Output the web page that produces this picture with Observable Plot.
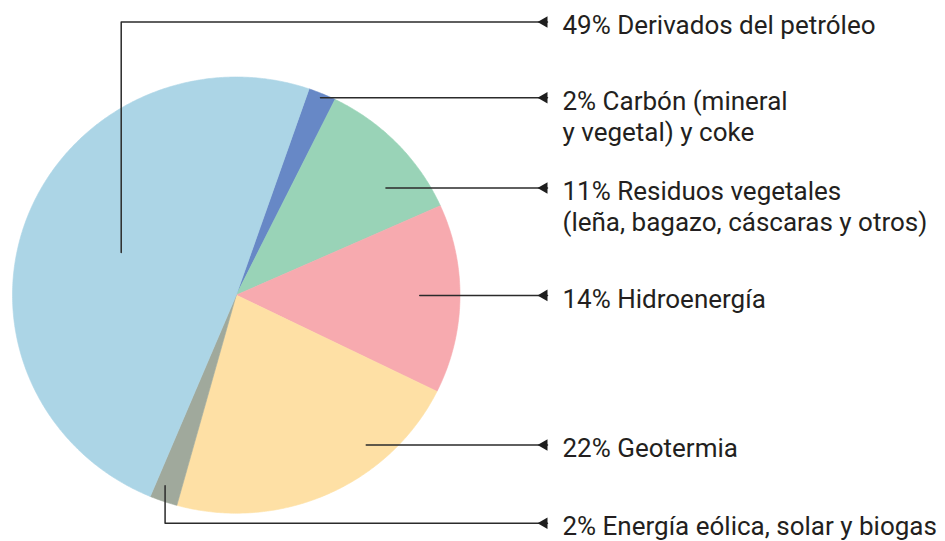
<!DOCTYPE html>
<html><head><meta charset="utf-8">
<script src="https://cdn.jsdelivr.net/npm/d3@7"></script>
<script src="https://cdn.jsdelivr.net/npm/@observablehq/plot@0.6"></script>
<style>html,body{margin:0;padding:0;background:#fff} svg{display:block}</style>
</head><body><div id="chart"></div>
<script>
// Data (clockwise from the top, starting with Carbón)
const categories = [
  "Carbón (mineral\ny vegetal) y coke",
  "Residuos vegetales\n(leña, bagazo, cáscaras y otros)",
  "Hidroenergía",
  "Geotermia",
  "Energía eólica, solar y biogas",
  "Derivados del petróleo"
];
const shares = [2, 11, 14, 22, 2, 49];
const colors = ["#6788c6", "#99d3b7", "#f7aaaf", "#fee0a5", "#a0a99c", "#acd5e6"];

// Layout of the annotations (unit-circle coordinates)
const startAngle = 19;                                  // degrees, clockwise from top
const leaderAngle = [22.6, 53.7, 90.1, 139.8, 200, 290.8];
const leaderRadius = [0.98, 0.83, 0.82, 0.9, 0.93, 0.55];
const labelElbowY = [null, null, null, null, -1.046, 1.252];
const labelColumn = 1.391;

const rad = d => d * Math.PI / 180;

// slice polygons
const slicePolys = [];
let acc = startAngle;
shares.forEach((v, i) => {
  const a0 = acc, a1 = acc + v * 3.6;
  acc = a1;
  const pts = [{i, x: 0, y: 0}];
  const n = Math.max(4, Math.ceil((a1 - a0) / 0.5));
  for (let k = 0; k <= n; k++) {
    const a = rad(a0 + (a1 - a0) * k / n);
    pts.push({i, x: Math.sin(a), y: Math.cos(a)});
  }
  pts.push({i, x: 0, y: 0});
  slicePolys.push(pts);
});

// leader lines and labels
const leaderPts = [];
const labels = [];
shares.forEach((v, i) => {
  const a = rad(leaderAngle[i]);
  const px = leaderRadius[i] * Math.sin(a), py = leaderRadius[i] * Math.cos(a);
  leaderPts.push({i, x: px, y: py});
  let ly = py;
  if (labelElbowY[i] !== null) {
    ly = labelElbowY[i];
    leaderPts.push({i, x: px, y: ly});
  }
  leaderPts.push({i, x: labelColumn, y: ly});
  labels.push({i, y: ly, text: `${v}% ${categories[i]}`});
});

const font = "Roboto, 'Noto Sans', sans-serif";

const chart = Plot.plot({
  width: 945,
  height: 541,
  margin: 0,
  x: {domain: [-1, 1], range: [12, 459.5], axis: null},
  y: {domain: [-1, 1], range: [512.7, 76.5], axis: null},
  style: {background: "#fff", fontFamily: font},
  marks: [
    ...slicePolys.map((pts, i) => Plot.line(pts, {x: "x", y: "y", fill: colors[i], stroke: colors[i], strokeWidth: 0.6})),
    Plot.line(leaderPts, {x: "x", y: "y", z: "i", stroke: "#2b2b2b", strokeWidth: 1.5}),
    Plot.dot(labels, {x: () => labelColumn, y: "y", symbol: "triangle", r: 4.3, rotate: -90, fill: "#1e1e1e", stroke: null, dx: -3.3}),
    Plot.text(labels, {x: () => labelColumn, y: "y", text: "text", textAnchor: "start", lineAnchor: "top", dx: 15, dy: -10, fontSize: 26, lineHeight: 1.2, fill: "#231f20", fontFamily: font})
  ]
});
document.getElementById("chart").appendChild(chart);
</script>
</body></html>
